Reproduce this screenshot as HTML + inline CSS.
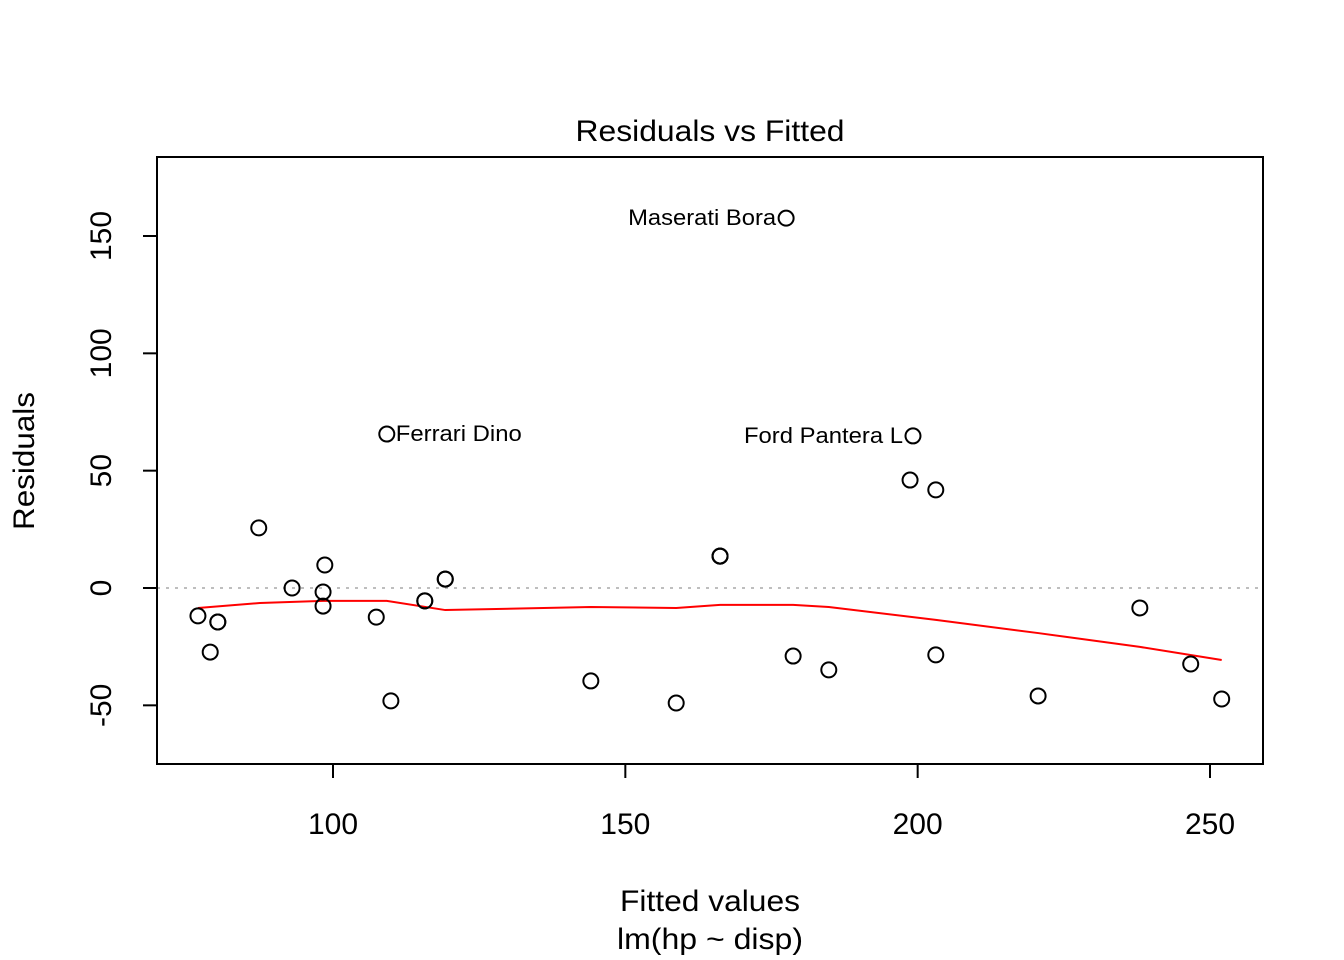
<!DOCTYPE html>
<html><head><meta charset="utf-8"><style>
html,body{margin:0;padding:0;background:#fff;}
svg{display:block;font-family:"Liberation Sans",Arial,sans-serif;}
</style></head><body>
<svg id="chart" width="1344" height="960" viewBox="0 0 1344 960"></svg>
<script>
const fittedValues=[76.9,79.0,80.3,80.3,87.3,93.0,98.3,98.3,98.6,107.4,109.2,109.9,115.7,115.7,119.2,119.2,144.1,158.7,166.2,166.2,166.2,177.5,178.7,184.8,198.7,199.2,203.1,203.1,220.6,238.0,246.7,252.0];
const residualValues=[-11.9,-27.3,-14.5,-14.5,25.6,0,-1.7,-7.7,9.8,-12.4,65.6,-48.1,-5.5,-5.5,3.8,3.8,-39.6,-49.0,13.6,13.6,13.6,157.6,-29.0,-34.9,46.0,64.8,41.8,-28.5,-46.0,-8.5,-32.4,-47.3];
const smoothX=[76.9,87.5,98.3,109.2,119.2,144.1,158.7,166.2,178.7,184.8,203.1,220.6,238.0,252.0];
const smoothY=[-8.5,-6.4,-5.5,-5.5,-9.4,-8.1,-8.5,-7.2,-7.2,-8.1,-13.6,-19.2,-25.1,-30.7];
const labelNames=["Maserati Bora","Ferrari Dino","Ford Pantera L"];
const labelIdx=[21,10,25];
const labelSide=["left","right","left"];
const labelLen=[148,126,159];
const xTicks=[100,150,200,250];
const yTicks=[-50,0,50,100,150];

const L=157,R=1263,T=157,B=764;
const xs=v=>333+(v-100)*(877/150);
const ys=v=>588-v*(352/150);
const svg=document.getElementById('chart');
const NS='http://www.w3.org/2000/svg';
function mk(tag,attrs,txt){const e=document.createElementNS(NS,tag);for(const k in attrs)e.setAttribute(k,attrs[k]);if(txt!==undefined)e.textContent=txt;svg.appendChild(e);return e;}

let e;
e=mk('text',{x:710,y:141,'text-anchor':'middle','font-size':30,textLength:269,lengthAdjust:'spacingAndGlyphs'},'Residuals vs Fitted');


e=mk('line',{x1:L,y1:588,x2:R,y2:588,stroke:'#bebebe','stroke-width':2,'stroke-dasharray':'3,6'});


e=mk('rect',{x:L,y:T,width:R-L,height:B-T,fill:'none',stroke:'#000','stroke-width':2});



xTicks.forEach(t=>{
  const x=xs(t);
  e=mk('line',{x1:x,y1:B,x2:x,y2:B+14,stroke:'#000','stroke-width':2});
  
  
  e=mk('text',{x:x,y:834,'text-anchor':'middle','font-size':30},String(t));
  
  
});

yTicks.forEach(t=>{
  const y=ys(t);
  e=mk('line',{x1:L,y1:y,x2:L-14,y2:y,stroke:'#000','stroke-width':2});
  
  
  e=mk('text',{x:111,y:y,'text-anchor':'middle','font-size':30,transform:`rotate(-90 111 ${y})`},String(t));
  
  
});

e=mk('text',{x:710,y:911,'text-anchor':'middle','font-size':30,textLength:180,lengthAdjust:'spacingAndGlyphs'},'Fitted values');


e=mk('text',{x:710,y:949,'text-anchor':'middle','font-size':30,textLength:186,lengthAdjust:'spacingAndGlyphs'},'lm(hp ~ disp)');


e=mk('text',{x:34,y:461,'text-anchor':'middle','font-size':30,textLength:138,lengthAdjust:'spacingAndGlyphs',transform:'rotate(-90 34 461)'},'Residuals');



e=mk('polyline',{points:smoothX.map((x,i)=>xs(x)+','+ys(smoothY[i])).join(' '),fill:'none',stroke:'#ff0000','stroke-width':2});



fittedValues.forEach((x,i)=>{
  e=mk('circle',{cx:xs(x),cy:ys(residualValues[i]),r:7.5,fill:'none',stroke:'#000','stroke-width':2});
  
  
});

labelNames.forEach((n,k)=>{
  const i=labelIdx[k];const x=xs(fittedValues[i]),y=ys(residualValues[i]);
  const left=labelSide[k]==='left';
  e=mk('text',{x:left?x-10:x+9,y:y+7,'text-anchor':left?'end':'start','font-size':22,textLength:labelLen[k],lengthAdjust:'spacingAndGlyphs'},n);
  
  
});
</script>
</body></html>
